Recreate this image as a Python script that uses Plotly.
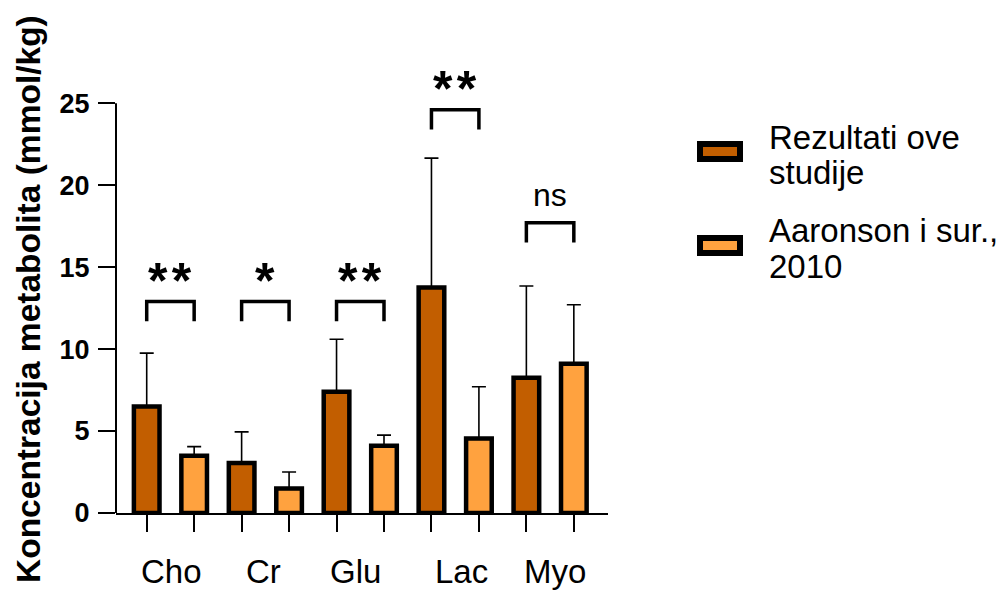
import plotly.graph_objects as go

# ---- data ----
categories = ["Cho", "Cr", "Glu", "Lac", "Myo"]
series_names = ["Rezultati ove studije", "Aaronson i sur., 2010"]
ove_mean = [6.5, 3.05, 7.4, 13.75, 8.25]
ove_err = [3.25, 1.9, 3.2, 7.9, 5.6]
aar_mean = [3.5, 1.5, 4.1, 4.55, 9.1]
aar_err = [0.55, 1.0, 0.65, 3.15, 3.6]
significance = ["**", "*", "**", "**", "ns"]
y_ticks = [0, 5, 10, 15, 20, 25]

# ---- layout constants ----
bracket_top = [12.9, 12.9, 12.9, 24.6, 17.7]
label_x_offset = [0.03, -0.03, -0.1, 0.14, 0.1]
DARK = "#C25E00"
LIGHT = "#FFA23F"
FONT = "Liberation Sans, Arial, sans-serif"

OFF = 8  # page body margin
W, H = 1008 - OFF, 590 - OFF
# plot area in reference (window) pixels
RL, RR, RT, RB = 116, 608, 54, 513
L, R, T, B = RL - OFF, RR - OFF, RT - OFF, RB - OFF


def px(x):
    return (x - RL) / (RR - RL)


def py(y):
    return (RB - y) / (RB - RT)


x_dark = [2 * i for i in range(len(categories))]
x_light = [2 * i + 1 for i in range(len(categories))]

fig = go.Figure()
for xs, ys, es, col, name in [
    (x_dark, ove_mean, ove_err, DARK, series_names[0]),
    (x_light, aar_mean, aar_err, LIGHT, series_names[1]),
]:
    fig.add_trace(go.Bar(
        x=xs, y=ys, name=name, width=0.54,
        marker=dict(color=col, line=dict(color="black", width=4.5)),
        error_y=dict(type="data", array=es, symmetric=False,
                     arrayminus=[0] * len(es), color="black",
                     thickness=1.6, width=7),
        showlegend=False,
    ))

shapes = []
annotations = []
# y-axis line only up to 25
shapes.append(dict(type="line", xref="paper", yref="y", x0=0, x1=0,
                   y0=0, y1=25, line=dict(color="black", width=2)))

# significance brackets
for i, (sig, top) in enumerate(zip(significance, bracket_top)):
    x0, x1 = x_dark[i], x_light[i]
    low = top - 1.2
    shapes.append(dict(type="path", xref="x", yref="y",
                       path=f"M {x0},{low} L {x0},{top} L {x1},{top} L {x1},{low}",
                       line=dict(color="black", width=3.5)))
    if sig == "ns":
        annotations.append(dict(x=(x0 + x1) / 2, y=top + 1.7, xref="x", yref="y",
                                text="ns", showarrow=False,
                                font=dict(family=FONT, size=32, color="black")))
    else:
        annotations.append(dict(x=(x0 + x1) / 2, y=top + 1.25, xref="x", yref="y",
                                text="<b>" + "\u200a".join(sig) + "</b>",
                                showarrow=False,
                                font=dict(family=FONT, size=50, color="black")))

# category labels
for i, c in enumerate(categories):
    annotations.append(dict(x=(x_dark[i] + x_light[i]) / 2 + label_x_offset[i],
                            y=py(571), xref="x", yref="paper", text=c,
                            showarrow=False, xanchor="center", yanchor="middle",
                            font=dict(family=FONT, size=33, color="black")))

# y-axis title
annotations.append(dict(x=px(28), y=py(299), xref="paper", yref="paper",
                        text="<b>Koncentracija metabolita (mmol/kg)</b>",
                        textangle=-90, showarrow=False,
                        xanchor="center", yanchor="middle",
                        font=dict(family=FONT, size=33.5, color="black")))

# manual legend
legend_rows = [(DARK, 151.5, ["Rezultati ove", "studije"], [137, 172]),
               (LIGHT, 245.5, ["Aaronson i sur.,", "2010"], [230, 266])]
for col, cy, lines, ly in legend_rows:
    shapes.append(dict(type="rect", xref="paper", yref="paper",
                       x0=px(700), x1=px(740), y0=py(cy - 7.5), y1=py(cy + 7.5),
                       fillcolor=col, line=dict(color="black", width=6)))
    for t, yy in zip(lines, ly):
        annotations.append(dict(x=px(767), y=py(yy), xref="paper", yref="paper",
                                text=t, showarrow=False, xanchor="left",
                                yanchor="middle",
                                font=dict(family=FONT, size=33, color="black")))

fig.update_layout(
    width=W, height=H,
    margin=dict(l=L, r=W - R, t=T, b=H - B, pad=0),
    paper_bgcolor="white", plot_bgcolor="white",
    barmode="overlay",
    shapes=shapes, annotations=annotations,
    xaxis=dict(range=[-0.647, 9.72], tickvals=x_dark + x_light,
               ticktext=[""] * 10, ticks="outside", ticklen=17, tickwidth=2,
               tickcolor="black", showline=True, linecolor="black",
               linewidth=2, showgrid=False, zeroline=False, fixedrange=True),
    yaxis=dict(range=[0, 28], tickvals=y_ticks, ticks="outside", ticklen=17,
               tickwidth=2, tickcolor="black", showline=False,
               showgrid=False, zeroline=False,
               tickfont=dict(family=FONT, size=27, color="black"),
               ticklabelstandoff=3),
    font=dict(family=FONT, color="black"),
)
# bold tick labels
fig.update_yaxes(ticktext=[f"<b>{v}</b>" for v in y_ticks])

fig.write_html("out.html")
